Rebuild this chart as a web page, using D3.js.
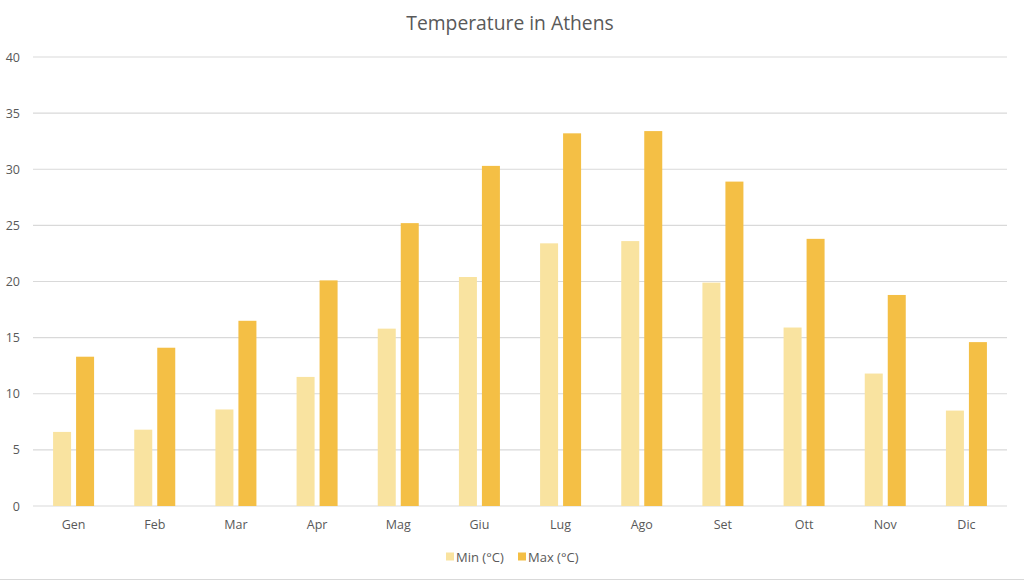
<!DOCTYPE html>
<html>
<head>
<meta charset="utf-8">
<script src="https://cdn.jsdelivr.net/npm/d3@7"></script>
<style>
  body { margin: 0; background: #fff; }
  text { font-family: "Open Sans", sans-serif; fill: #595959; }
</style>
</head>
<body>
<div id="chart"></div>
<script>
// data
const months = ["Gen", "Feb", "Mar", "Apr", "Mag", "Giu", "Lug", "Ago", "Set", "Ott", "Nov", "Dic"];
const minTemps = [6.6, 6.8, 8.6, 11.5, 15.8, 20.4, 23.4, 23.6, 19.9, 15.9, 11.8, 8.5];
const maxTemps = [13.3, 14.1, 16.5, 20.1, 25.2, 30.3, 33.2, 33.4, 28.9, 23.8, 18.8, 14.6];
const seriesNames = ["Min (°C)", "Max (°C)"];
const yTicks = [0, 5, 10, 15, 20, 25, 30, 35, 40];

const W = 1024, H = 581;
const margin = { top: 57, right: 17, bottom: 75, left: 33 };
const width = W - margin.left - margin.right,
  height = H - margin.top - margin.bottom;

const svg = d3.select("#chart")
  .append("svg")
  .attr("width", W)
  .attr("height", H);

// chart frame bottom line
svg.append("line")
  .attr("x1", 0).attr("x2", W)
  .attr("y1", H - 1.5).attr("y2", H - 1.5)
  .attr("stroke", "#d9d9d9");

// title
svg.append("text")
  .attr("x", 510)
  .attr("y", 30)
  .attr("text-anchor", "middle")
  .style("font-size", "19.3px")
  .text("Temperature in Athens");

const g = svg.append("g")
  .attr("transform", `translate(${margin.left},${margin.top})`);

const x = d3.scaleBand().domain(months).range([0, width]);
const y = d3.scaleLinear().domain([0, 40]).range([height, 0]);

const color = d3.scaleOrdinal().domain(seriesNames).range(["#F9E3A0", "#F4BF45"]);

// gridlines
g.append("g")
  .selectAll("line")
  .data(yTicks)
  .join("line")
  .attr("x1", 0)
  .attr("x2", width)
  .attr("y1", (d) => y(d))
  .attr("y2", (d) => y(d))
  .attr("stroke", "#d9d9d9")
  .attr("stroke-width", 1.2);

// y axis labels
const yAxis = g.append("g")
  .call(d3.axisLeft(y).tickValues(yTicks).tickSize(0).tickPadding(13));
yAxis.select(".domain").remove();
yAxis.selectAll("text").style("font-size", "12.5px").attr("fill", "#595959");

// x axis labels
const xAxis = g.append("g")
  .attr("transform", `translate(0,${height})`)
  .call(d3.axisBottom(x).tickSize(0).tickPadding(14));
xAxis.select(".domain").remove();
xAxis.selectAll("text").style("font-size", "12.5px").attr("fill", "#595959");

// bars
const barW = 18, gap = 5;
const rows = months.map((m, i) => ({ month: m, values: [minTemps[i], maxTemps[i]] }));

g.append("g")
  .selectAll("g")
  .data(rows)
  .join("g")
  .attr("transform", (d) => `translate(${x(d.month) + x.bandwidth() / 2},0)`)
  .selectAll("rect")
  .data((d) => d.values.map((v, k) => ({ v, k })))
  .join("rect")
  .attr("x", (d) => (d.k === 0 ? -(barW + gap / 2) : gap / 2))
  .attr("y", (d) => y(d.v))
  .attr("width", barW)
  .attr("height", (d) => y(0) - y(d.v))
  .attr("fill", (d) => color(seriesNames[d.k]));

// legend
const legend = svg.append("g")
  .attr("transform", "translate(446,557)");
const legendX = [0, 72];
seriesNames.forEach((name, k) => {
  const item = legend.append("g").attr("transform", `translate(${legendX[k]},0)`);
  item.append("rect")
    .attr("x", 0).attr("y", -4.5)
    .attr("width", 8).attr("height", 8)
    .attr("fill", color(name));
  item.append("text")
    .attr("x", 10)
    .attr("y", 0)
    .attr("dy", "0.35em")
    .style("font-size", "13px")
    .text(name);
});
</script>
</body>
</html>
